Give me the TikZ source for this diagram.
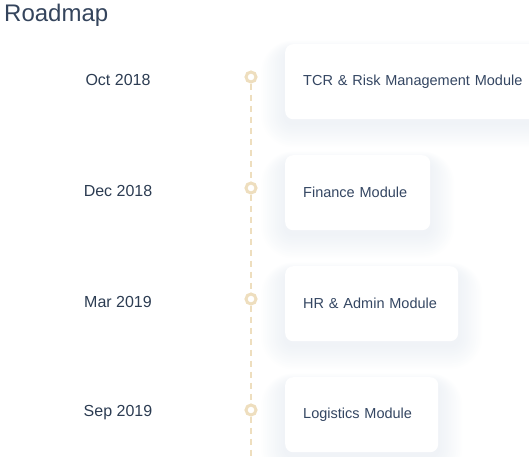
\documentclass[tikz,border=0pt]{standalone}
\usepackage{fontspec}
\setmainfont{Liberation Sans}
\usepackage{tikz}
\usetikzlibrary{positioning, backgrounds}
\definecolor{titlecolor}{RGB}{52, 68, 92}
\definecolor{datecolor}{RGB}{44, 60, 82}
\definecolor{cardtext}{RGB}{52, 70, 98}
\definecolor{dotcolor}{RGB}{238, 222, 190}
\definecolor{shadowcolor}{RGB}{208, 218, 230}

\begin{document}
\begin{tikzpicture}[
    x=1pt, y=-1pt,
    datelabel/.style={anchor=center, text=datecolor, font=\fontsize{16}{19}\selectfont},
    dot/.style={circle, draw=dotcolor, fill=white, line width=3pt, minimum size=10pt, inner sep=0pt},
    card/.style={anchor=north west, fill=white, rounded corners=8pt, minimum height=75pt, inner xsep=18pt, align=left, text=cardtext, font=\fontsize{14.5}{17}\selectfont},
    timeline/.style={draw=dotcolor, line width=2pt, dash pattern=on 6pt off 5pt}
]
    \useasboundingbox (0,0) rectangle (529,456);

    % Title
    \node[anchor=base west, inner sep=0pt, text=titlecolor, font=\fontsize{24}{28}\selectfont] (title) at (4,21) {Roadmap};

    % Dates
    \node[datelabel] (d1) at (118,80) {Oct 2018};
    \node[datelabel] (d2) at (118,191) {Dec 2018};
    \node[datelabel] (d3) at (118,302) {Mar 2019};
    \node[datelabel] (d4) at (118,413) {Sep 2019};

    % Cards
    \node[card, text width=220pt] (m1) at (285,44) {TCR \& Risk Management Module};
    \node[card, text width=109pt] (m2) at (285,155) {Finance Module};
    \node[card, text width=137pt] (m3) at (285,266) {HR \& Admin Module};
    \node[card, text width=117pt] (m4) at (285,377) {Logistics Module};

    % Soft shadows under the cards
    \begin{scope}[on background layer]
        \foreach \c in {m1,m2,m3,m4}
            \foreach \s in {2,4,...,24}
                \fill[shadowcolor, opacity=0.03, rounded corners=8pt+\s pt]
                    ([shift={(-\s,-0.4*\s+6)}]\c.north west) rectangle ([shift={(\s,\s+4)}]\c.south east);
    \end{scope}

    % Timeline dots
    \node[dot] (p1) at (251,77) {};
    \node[dot] (p2) at (251,188) {};
    \node[dot] (p3) at (251,299) {};
    \node[dot] (p4) at (251,410) {};
    \coordinate (pend) at (251,456);

    % Dashed line
    \draw[timeline] (p1) -- (p2);
    \draw[timeline] (p2) -- (p3);
    \draw[timeline] (p3) -- (p4);
    \draw[timeline] (p4) -- (pend);

\end{tikzpicture}
\end{document}
